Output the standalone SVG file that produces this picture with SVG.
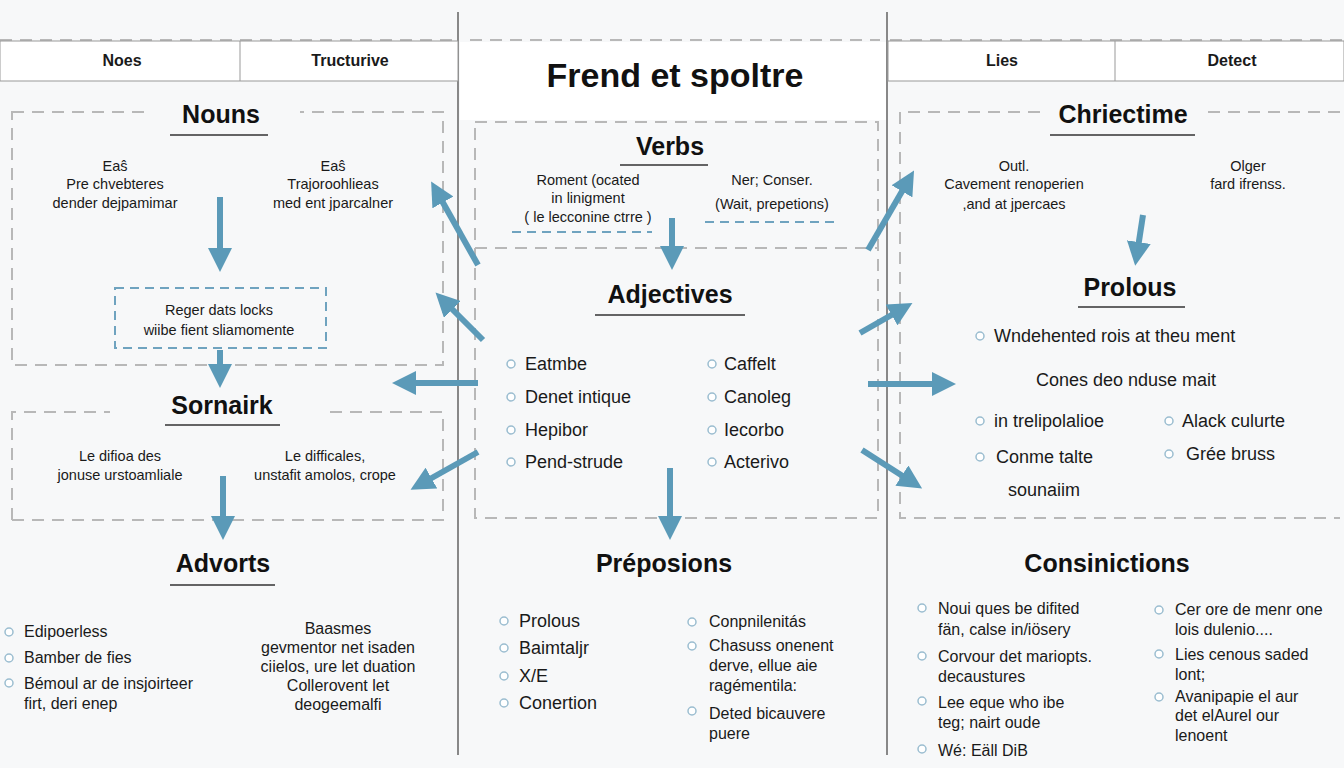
<svg xmlns="http://www.w3.org/2000/svg" width="1344" height="768" viewBox="0 0 1344 768">
<style>
text{font-family:"Liberation Sans",Arial,sans-serif;fill:#1a1a1a}
.t{font-size:25px;font-weight:bold;text-anchor:middle;fill:#111}
.s{font-size:14.5px;text-anchor:middle}
.l{font-size:18px}
.h{font-size:16px;font-weight:bold;text-anchor:middle}
.dash{fill:none;stroke:#b8b8b8;stroke-width:2;stroke-dasharray:12 8}
.bd{fill:none;stroke:#6fa3bf;stroke-width:2;stroke-dasharray:9 6}
.ul{stroke:#333;stroke-width:1.3}
.ar{stroke:#5b9ab8;stroke-width:6;marker-end:url(#ah)}
.b{fill:#fff;stroke:#9bbdd0;stroke-width:1.5}
</style>
<defs>
<marker id="ah" markerWidth="4" markerHeight="4" refX="2" refY="2" orient="auto" markerUnits="strokeWidth"><path d="M0,0 L4,2 L0,4 z" fill="#5b9ab8"/></marker>
</defs>
<rect width="1344" height="768" fill="#f7f8f9"/>
<g id="frame">
<line x1="458" y1="12" x2="458" y2="755" stroke="#888" stroke-width="2"/>
<line x1="887" y1="12" x2="887" y2="755" stroke="#888" stroke-width="2"/>
<line x1="0" y1="40" x2="458" y2="40" class="dash"/>
<line x1="470" y1="40" x2="880" y2="40" class="dash"/>
<line x1="890" y1="40" x2="1344" y2="40" class="dash"/>
</g>
<g id="header-left">
<rect x="0" y="41" width="458" height="40" fill="#fff" stroke="#999"/>
<line x1="240" y1="41" x2="240" y2="81" stroke="#999"/>
<text x="122" y="66" class="h">Noes</text>
<text x="350" y="66" class="h">Tructurive</text>
</g>
<g id="header-right">
<rect x="888" y="41" width="456" height="40" fill="#fff" stroke="#999"/>
<line x1="1115" y1="41" x2="1115" y2="81" stroke="#999"/>
<text x="1002" y="66" class="h">Lies</text>
<text x="1232" y="66" class="h">Detect</text>
</g>
<g id="title">
<rect x="460" y="42" width="426" height="78" fill="#fff"/>
<text x="675" y="87" style="font-size:34px;font-weight:bold;text-anchor:middle;fill:#111">Frend et spoltre</text>
</g>
<g id="nouns">
<rect x="12" y="112" width="431" height="253" class="dash"/>
<rect x="150" y="100" width="150" height="30" fill="#f7f8f9"/>
<text x="221" y="123" class="t">Nouns</text>
<line x1="170" y1="135" x2="268" y2="135" class="ul"/>
<text x="115" y="171" class="s">Eaŝ</text>
<text x="115" y="189" class="s">Pre chvebteres</text>
<text x="115" y="208" class="s">dender dejpamimar</text>
<text x="333" y="171" class="s">Eaŝ</text>
<text x="333" y="189" class="s">Trajoroohlieas</text>
<text x="333" y="208" class="s">med ent jparcalner</text>
</g>
<g id="regerbox">
<rect x="115" y="288" width="211" height="60" class="bd"/>
<text x="219" y="315" class="s">Reger dats locks</text>
<text x="219" y="335" class="s">wiibe fient sliamomente</text>
</g>
<g id="sornairk">
<path d="M12,520 V412 H110 M330,412 H443 V520 H12" class="dash"/>
<text x="222" y="414" class="t">Sornairk</text>
<line x1="165" y1="425" x2="280" y2="425" class="ul"/>
<text x="120" y="461" class="s">Le difioa des</text>
<text x="120" y="480" class="s">jonuse urstoamliale</text>
<text x="325" y="461" class="s">Le difficales,</text>
<text x="325" y="480" class="s">unstafit amolos, crope</text>
</g>
<g id="advorts">
<text x="223" y="572" class="t">Advorts</text>
<line x1="170" y1="585" x2="275" y2="585" class="ul"/>
<circle cx="9" cy="632" r="4" class="b"/><circle cx="9" cy="658" r="4" class="b"/><circle cx="9" cy="683" r="4" class="b"/>
<text x="24" y="637" class="s" style="text-anchor:start;font-size:16px">Edipoerless</text>
<text x="24" y="663" class="s" style="text-anchor:start;font-size:16px">Bamber de fies</text>
<text x="24" y="689" class="s" style="text-anchor:start;font-size:16px">Bémoul ar de insjoirteer</text>
<text x="24" y="709" class="s" style="text-anchor:start;font-size:16px">firt, deri enep</text>
<text x="338" y="634" class="s" style="font-size:16px">Baasmes</text>
<text x="338" y="653" class="s" style="font-size:16px">gevmentor net isaden</text>
<text x="338" y="672" class="s" style="font-size:16px">ciielos, ure let duation</text>
<text x="338" y="691" class="s" style="font-size:16px">Collerovent let</text>
<text x="338" y="710" class="s" style="font-size:16px">deogeemalfi</text>
</g>
<g id="verbs">
<rect x="475" y="122" width="403" height="396" class="dash"/>
<line x1="475" y1="248" x2="878" y2="248" class="dash"/>
<text x="670" y="155" class="t">Verbs</text>
<line x1="620" y1="165" x2="708" y2="165" class="ul"/>
<text x="588" y="185" class="s">Roment (ocated</text>
<text x="588" y="203" class="s">in linigment</text>
<text x="588" y="222" class="s">( le lecconine ctrre )</text>
<line x1="512" y1="232" x2="652" y2="232" class="bd"/>
<text x="772" y="185" class="s">Ner; Conser.</text>
<text x="772" y="209" class="s">(Wait, prepetions)</text>
<line x1="705" y1="222" x2="838" y2="222" class="bd"/>
</g>
<g id="adjectives">
<text x="670" y="303" class="t">Adjectives</text>
<line x1="595" y1="315" x2="745" y2="315" class="ul"/>
<circle cx="511" cy="364" r="4" class="b"/><circle cx="511" cy="397" r="4" class="b"/><circle cx="511" cy="430" r="4" class="b"/><circle cx="511" cy="462" r="4" class="b"/>
<text x="525" y="370" class="l">Eatmbe</text>
<text x="525" y="403" class="l">Denet intique</text>
<text x="525" y="436" class="l">Hepibor</text>
<text x="525" y="468" class="l">Pend-strude</text>
<circle cx="712" cy="364" r="4" class="b"/><circle cx="712" cy="397" r="4" class="b"/><circle cx="712" cy="430" r="4" class="b"/><circle cx="712" cy="462" r="4" class="b"/>
<text x="724" y="370" class="l">Caffelt</text>
<text x="724" y="403" class="l">Canoleg</text>
<text x="724" y="436" class="l">Iecorbo</text>
<text x="724" y="468" class="l">Acterivo</text>
</g>
<g id="preposions">
<text x="664" y="572" class="t">Préposions</text>
<circle cx="504" cy="621" r="4" class="b"/><circle cx="504" cy="648" r="4" class="b"/><circle cx="504" cy="676" r="4" class="b"/><circle cx="504" cy="703" r="4" class="b"/>
<text x="519" y="627" class="l">Prolous</text>
<text x="519" y="654" class="l">Baimtaljr</text>
<text x="519" y="682" class="l">X/E</text>
<text x="519" y="709" class="l">Conertion</text>
<circle cx="692" cy="622" r="4" class="b"/><circle cx="692" cy="646" r="4" class="b"/><circle cx="692" cy="711" r="4" class="b"/>
<text x="709" y="627" class="s" style="text-anchor:start;font-size:16px">Conpnilenitás</text>
<text x="709" y="651" class="s" style="text-anchor:start;font-size:16px">Chasuss onenent</text>
<text x="709" y="671" class="s" style="text-anchor:start;font-size:16px">derve, ellue aie</text>
<text x="709" y="691" class="s" style="text-anchor:start;font-size:16px">ragémentila:</text>
<text x="709" y="719" class="s" style="text-anchor:start;font-size:16px">Deted bicauvere</text>
<text x="709" y="739" class="s" style="text-anchor:start;font-size:16px">puere</text>
</g>
<g id="chriectime">
<path d="M900,112 V518 H1340 M1340,112 H1205 M1040,112 H900" class="dash"/>
<text x="1123" y="123" class="t">Chriectime</text>
<line x1="1050" y1="135" x2="1195" y2="135" class="ul"/>
<text x="1014" y="171" class="s">Outl.</text>
<text x="1014" y="189" class="s">Cavement renoperien</text>
<text x="1014" y="209" class="s">,and at jpercaes</text>
<text x="1248" y="171" class="s">Olger</text>
<text x="1248" y="189" class="s">fard ifrenss.</text>
</g>
<g id="prolous">
<text x="1130" y="296" class="t">Prolous</text>
<line x1="1078" y1="307" x2="1185" y2="307" class="ul"/>
<circle cx="980" cy="336" r="4" class="b"/>
<text x="994" y="342" class="l">Wndehented rois at theu ment</text>
<text x="1126" y="386" class="l" style="text-anchor:middle">Cones deo nduse mait</text>
<circle cx="980" cy="421" r="4" class="b"/><circle cx="980" cy="457" r="4" class="b"/>
<text x="994" y="427" class="l">in trelipolalioe</text>
<text x="996" y="463" class="l">Conme talte</text>
<text x="1044" y="496" class="l" style="text-anchor:middle">sounaiim</text>
<circle cx="1169" cy="421" r="4" class="b"/><circle cx="1169" cy="454" r="4" class="b"/>
<text x="1182" y="427" class="l">Alack culurte</text>
<text x="1186" y="460" class="l">Grée bruss</text>
</g>
<g id="consinictions">
<text x="1107" y="572" class="t">Consinictions</text>
<circle cx="922" cy="608" r="4" class="b"/><circle cx="922" cy="656" r="4" class="b"/><circle cx="922" cy="701" r="4" class="b"/><circle cx="922" cy="749" r="4" class="b"/>
<text x="938" y="614" class="s" style="text-anchor:start;font-size:16px">Noui ques be difited</text>
<text x="938" y="635" class="s" style="text-anchor:start;font-size:16px">fän, calse in/iösery</text>
<text x="938" y="662" class="s" style="text-anchor:start;font-size:16px">Corvour det mariopts.</text>
<text x="938" y="682" class="s" style="text-anchor:start;font-size:16px">decaustures</text>
<text x="938" y="708" class="s" style="text-anchor:start;font-size:16px">Lee eque who ibe</text>
<text x="938" y="728" class="s" style="text-anchor:start;font-size:16px">teg; nairt oude</text>
<text x="938" y="756" class="s" style="text-anchor:start;font-size:16px">Wé: Eäll DiB</text>
<circle cx="1159" cy="610" r="4" class="b"/><circle cx="1159" cy="654" r="4" class="b"/><circle cx="1159" cy="697" r="4" class="b"/>
<text x="1175" y="615" class="s" style="text-anchor:start;font-size:16px">Cer ore de menr one</text>
<text x="1175" y="635" class="s" style="text-anchor:start;font-size:16px">lois dulenio....</text>
<text x="1175" y="660" class="s" style="text-anchor:start;font-size:16px">Lies cenous saded</text>
<text x="1175" y="680" class="s" style="text-anchor:start;font-size:16px">lont;</text>
<text x="1175" y="702" class="s" style="text-anchor:start;font-size:16px">Avanipapie el aur</text>
<text x="1175" y="721" class="s" style="text-anchor:start;font-size:16px">det elAurel our</text>
<text x="1175" y="741" class="s" style="text-anchor:start;font-size:16px">lenoent</text>
</g>
<g id="connectors">
<line x1="220" y1="197" x2="220" y2="260" class="ar"/>
<line x1="220" y1="350" x2="220" y2="376" class="ar"/>
<line x1="223" y1="476" x2="223" y2="528" class="ar"/>
<line x1="672" y1="218" x2="672" y2="258" class="ar"/>
<line x1="670" y1="468" x2="670" y2="528" class="ar"/>
<line x1="1143" y1="215" x2="1137" y2="254" class="ar"/>
<line x1="478" y1="265" x2="437" y2="192" class="ar"/>
<line x1="483" y1="340" x2="444" y2="301" class="ar"/>
<line x1="478" y1="383" x2="404" y2="383" class="ar"/>
<line x1="478" y1="452" x2="421" y2="484" class="ar"/>
<line x1="868" y1="250" x2="908" y2="181" class="ar"/>
<line x1="860" y1="333" x2="902" y2="309" class="ar"/>
<line x1="868" y1="384" x2="944" y2="384" class="ar"/>
<line x1="862" y1="450" x2="912" y2="482" class="ar"/>
</g>
</svg>
